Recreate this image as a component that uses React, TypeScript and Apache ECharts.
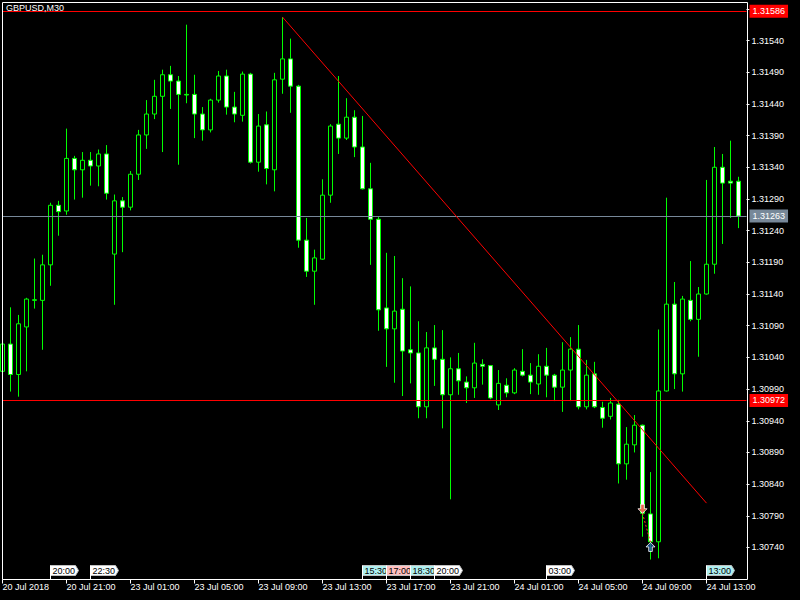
import React, { useEffect, useRef } from 'react';
import * as echarts from 'echarts';

const FONT = '"Liberation Sans", Arial, sans-serif';
const chartTitle = 'GBPUSD,M30';

const xTickLabels = [
  '20 Jul 2018', '20 Jul 21:00', '23 Jul 01:00', '23 Jul 05:00', '23 Jul 09:00', '23 Jul 13:00',
  '23 Jul 17:00', '23 Jul 21:00', '24 Jul 01:00', '24 Jul 05:00', '24 Jul 09:00', '24 Jul 13:00',
];

const yTickValues = [
  1.3074, 1.3079, 1.3084, 1.3089, 1.3094, 1.3099, 1.3104, 1.3109, 1.3114,
  1.3119, 1.3124, 1.3129, 1.3134, 1.3139, 1.3144, 1.3149, 1.3154, 1.3159,
];
const yLabelValues = [
  1.3074, 1.3079, 1.3084, 1.3089, 1.3094, 1.3099, 1.3104, 1.3109, 1.3114,
  1.3119, 1.3124, 1.3129, 1.3134, 1.3139, 1.3144, 1.3149, 1.3154,
];

const opens = [
  1.31018, 1.31061, 1.31013, 1.31088, 1.31130, 1.31130, 1.31186, 1.31280, 1.31271, 1.31354,
  1.31336, 1.31351, 1.31342, 1.31361, 1.31203, 1.31287, 1.31277, 1.31329, 1.31391, 1.31424,
  1.31452, 1.31486, 1.31476, 1.31455, 1.31455, 1.31424, 1.31399, 1.31446, 1.31484, 1.31435,
  1.31422, 1.31487, 1.31348, 1.31407, 1.31336, 1.31479, 1.31511, 1.31468, 1.31225, 1.31176,
  1.31195, 1.31296, 1.31408, 1.31386, 1.31419, 1.31372, 1.31306, 1.31258, 1.31118, 1.31085,
  1.31116, 1.31052, 1.31047, 1.30962, 1.31055, 1.31037, 1.30981, 1.31022, 1.31001, 1.30992,
  1.31029, 1.31027, 1.30965, 1.30996, 1.30984, 1.31018, 1.31012, 1.30998, 1.31026, 1.31012,
  1.30993, 1.31020, 1.31053, 1.30962, 1.31014, 1.30961, 1.30947, 1.30966, 1.30872, 1.30902,
  1.30933, 1.30793, 1.30749, 1.30987, 1.31124, 1.31014, 1.31130, 1.31100, 1.31140, 1.31187,
  1.31340, 1.31318, 1.31318,
];
const closes = [
  1.31061, 1.31013, 1.31093, 1.31132, 1.31131, 1.31186, 1.31280, 1.31270, 1.31354, 1.31336,
  1.31351, 1.31342, 1.31361, 1.31299, 1.31287, 1.31277, 1.31329, 1.31391, 1.31424, 1.31452,
  1.31486, 1.31476, 1.31455, 1.31454, 1.31424, 1.31399, 1.31446, 1.31484, 1.31435, 1.31424,
  1.31487, 1.31348, 1.31405, 1.31338, 1.31478, 1.31511, 1.31468, 1.31225, 1.31176, 1.31197,
  1.31296, 1.31405, 1.31386, 1.31419, 1.31372, 1.31306, 1.31258, 1.31115, 1.31085, 1.31113,
  1.31050, 1.31047, 1.30962, 1.31055, 1.31037, 1.30981, 1.31022, 1.31003, 1.30992, 1.31031,
  1.31026, 1.30976, 1.30999, 1.30984, 1.31020, 1.31012, 1.31001, 1.31026, 1.31012, 1.30993,
  1.31020, 1.31053, 1.30962, 1.31012, 1.30962, 1.30944, 1.30968, 1.30872, 1.30903, 1.30933,
  1.30794, 1.30749, 1.30987, 1.31124, 1.31014, 1.31132, 1.31100, 1.31140, 1.31187, 1.31340,
  1.31315, 1.31315, 1.31263,
];
const lows = [
  1.31008, 1.30986, 1.30978, 1.31018, 1.31117, 1.31052, 1.31153, 1.31232, 1.31265, 1.31289,
  1.31292, 1.31311, 1.31310, 1.31289, 1.31123, 1.31206, 1.31272, 1.31320, 1.31369, 1.31416,
  1.31364, 1.31432, 1.31344, 1.31441, 1.31386, 1.31382, 1.31395, 1.31442, 1.31423, 1.31411,
  1.31412, 1.31346, 1.31333, 1.31313, 1.31302, 1.31456, 1.31426, 1.31213, 1.31167, 1.31123,
  1.31194, 1.31284, 1.31361, 1.31383, 1.31356, 1.31305, 1.31186, 1.31082, 1.31025, 1.31000,
  1.30979, 1.30999, 1.30944, 1.30944, 1.30995, 1.30928, 1.30816, 1.30981, 1.30968, 1.30976,
  1.30997, 1.30974, 1.30957, 1.30977, 1.30982, 1.31010, 1.30982, 1.30981, 1.30977, 1.30971,
  1.30954, 1.30971, 1.30958, 1.30958, 1.30960, 1.30929, 1.30942, 1.30841, 1.30847, 1.30890,
  1.30757, 1.30721, 1.30723, 1.30986, 1.30990, 1.30986, 1.31097, 1.31041, 1.31139, 1.31172,
  1.31219, 1.31260, 1.31244,
];
const highs = [
  1.31071, 1.31119, 1.31107, 1.31134, 1.31196, 1.31202, 1.31284, 1.31287, 1.31401, 1.31358,
  1.31364, 1.31364, 1.31368, 1.31375, 1.31297, 1.31293, 1.31334, 1.31399, 1.31446, 1.31478,
  1.31494, 1.31500, 1.31484, 1.31565, 1.31486, 1.31435, 1.31448, 1.31492, 1.31494, 1.31459,
  1.31491, 1.31489, 1.31424, 1.31428, 1.31489, 1.31577, 1.31543, 1.31470, 1.31260, 1.31210,
  1.31321, 1.31408, 1.31484, 1.31449, 1.31430, 1.31421, 1.31347, 1.31262, 1.31205, 1.31200,
  1.31165, 1.31152, 1.31097, 1.31080, 1.31091, 1.31083, 1.31040, 1.31047, 1.31010, 1.31063,
  1.31037, 1.31028, 1.31020, 1.31007, 1.31023, 1.31053, 1.31031, 1.31045, 1.31055, 1.31014,
  1.31064, 1.31072, 1.31091, 1.31036, 1.31033, 1.30970, 1.30976, 1.30973, 1.30930, 1.30949,
  1.30934, 1.30859, 1.31084, 1.31292, 1.31159, 1.31137, 1.31192, 1.31151, 1.31320, 1.31372,
  1.31361, 1.31382, 1.31325,
];

// price lines
const highLine = 1.31586;
const bidLine = 1.31263;
const levelLine = 1.30972;
// trend line [index, price]
const trendStart = [35, 1.31577];
const trendEnd = [88, 1.30810];
// event time markers on bottom
const eventIndex = [6, 11, 45, 48, 51, 54, 68, 88];
const eventLabels = ['20:00', '22:30', '15:30', '17:00', '18:30', '20:00', '03:00', '13:00'];
const eventColors = ['#ffffff', '#ffffff', '#b0f0f0', '#ffc0c0', '#b0f0f0', '#ffffff', '#ffffff', '#b0f0f0'];
// trades
const sellPoint = [80, 1.30794];
const buyPoint = [81, 1.30748];

const yMin = 1.306895;
const yMax = 1.316;

function buildCategories(n: number): string[] {
  const out: string[] = [];
  let day = 20;
  let h = 17;
  let m = 0;
  const pad = (v: number) => (v < 10 ? '0' + v : '' + v);
  for (let i = 0; i < n; i++) {
    out.push(`${day} Jul ${pad(h)}:${pad(m)}`);
    m += 30;
    if (m === 60) { m = 0; h++; }
    if (h === 24) { h = 0; day = day === 20 ? 23 : day + 1; }
  }
  return out;
}

export default function App() {
  const ref = useRef<HTMLDivElement>(null);
  useEffect(() => {
    if (!ref.current) return;
    const chart = echarts.init(ref.current, null, { renderer: 'svg' });
    const categories = buildCategories(opens.length + 1);
    const lastIdx = categories.length - 1;
    const candleData = opens.map((o, i) => [o, closes[i], lows[i], highs[i]]);
    const priceLabel = (bg: string, v: number) => ({
      show: true,
      position: 'end',
      distance: 3,
      color: '#ffffff',
      backgroundColor: bg,
      padding: [2, 3, 1, 3],
      fontSize: 9,
      fontFamily: FONT,
      lineHeight: 10,
      formatter: v.toFixed(5),
    });
    const hLine = (v: number, color: string) => [
      { coord: [0, v], lineStyle: { color, type: 'solid', width: 1 }, label: priceLabel(color, v) },
      { coord: [lastIdx, v] },
    ];
    const option: any = {
      animation: false,
      backgroundColor: '#000000',
      textStyle: { fontFamily: FONT },
      grid: { left: 2.5, top: 2.5, width: 744, height: 577, containLabel: false, outerBoundsMode: 'none' },
      xAxis: {
        type: 'category',
        data: categories,
        boundaryGap: false,
        axisLine: { show: false },
        axisTick: { show: true, interval: 7, length: 4, lineStyle: { color: '#ffffff', width: 1 } },
        axisLabel: {
          interval: 7,
          color: '#ffffff',
          align: 'left',
          margin: 3,
          fontSize: 9,
          fontFamily: FONT,
          formatter: (_v: string, idx: number) => (idx % 8 === 0 ? xTickLabels[idx / 8] || '' : ''),
        },
        splitLine: { show: false },
      },
      yAxis: {
        type: 'value',
        position: 'right',
        min: yMin,
        max: yMax,
        splitLine: { show: false },
        axisLine: { show: false },
        axisTick: { show: true, length: 3, lineStyle: { color: '#ffffff' }, customValues: yTickValues },
        axisLabel: {
          color: '#ffffff',
          fontSize: 9,
          fontFamily: FONT,
          margin: 5,
          customValues: yLabelValues,
          formatter: (v: number) => v.toFixed(5),
        },
      },
      graphic: [
        {
          type: 'rect',
          z: 100,
          silent: true,
          shape: { x: 2.5, y: 2.5, width: 745, height: 577 },
          style: { fill: 'none', stroke: '#ffffff', lineWidth: 1 },
        },
        {
          type: 'text',
          left: 6,
          top: 3,
          z: 50,
          style: { text: chartTitle, fill: '#ffffff', fontSize: 9, fontFamily: FONT },
        },
      ],
      series: [
        {
          type: 'candlestick',
          data: candleData,
          barWidth: 4,
          z: 3,
          itemStyle: {
            color: '#000000',
            color0: '#ffffff',
            borderColor: '#00ff00',
            borderColor0: '#00ff00',
            borderColorDoji: '#00ff00',
            borderWidth: 1,
          },
          markLine: {
            silent: true,
            symbol: ['none', 'none'],
            animation: false,
            data: [
              hLine(highLine, '#ff0000'),
              hLine(bidLine, '#778899'),
              hLine(levelLine, '#ff0000'),
              [
                { coord: trendStart, lineStyle: { color: '#ff0000', type: 'solid', width: 1 }, label: { show: false } },
                { coord: trendEnd },
              ],
            ],
          },
        },
        {
          type: 'line',
          data: [sellPoint, buyPoint],
          symbol: 'none',
          z: 4,
          lineStyle: { color: '#ff3c1e', width: 1, type: [2, 2] },
        },
        {
          type: 'scatter',
          data: [sellPoint],
          z: 5,
          symbol: 'path://M3,0 L7,0 L7,5 L10,5 L5,10 L0,5 L3,5 Z',
          symbolSize: [9, 9],
          symbolOffset: [0, -4.5],
          itemStyle: { color: '#e8402a', borderColor: '#ffffff', borderWidth: 1 },
        },
        {
          type: 'scatter',
          data: [buyPoint],
          z: 5,
          symbol: 'path://M5,0 L10,5 L7,5 L7,10 L3,10 L3,5 L0,5 Z',
          symbolSize: [9, 9],
          symbolOffset: [0, 4.5],
          itemStyle: { color: '#1e5aa0', borderColor: '#ffffff', borderWidth: 1 },
        },
        {
          type: 'custom',
          z: 6,
          clip: false,
          data: eventIndex.map((idx, n) => [idx, n]),
          renderItem: (_params: any, api: any) => {
            const idx = api.value(0);
            const n = api.value(1);
            const pt = api.coord([idx, yMin]);
            const x = Math.floor(pt[0]) + 0.5;
            const base = pt[1];
            const top = base - 14;
            const bottom = base - 4;
            const mid = (top + bottom) / 2;
            return {
              type: 'group',
              children: [
                {
                  type: 'polygon',
                  shape: { points: [[x, top], [x + 25, top], [x + 28, mid], [x + 25, bottom], [x, bottom]] },
                  style: { fill: eventColors[n], stroke: '#c0c0c0', lineWidth: 1 },
                },
                {
                  type: 'line',
                  shape: { x1: x, y1: top, x2: x, y2: base },
                  style: { stroke: '#ffffff', lineWidth: 1 },
                },
                {
                  type: 'text',
                  x: x + 2,
                  y: mid + 0.5,
                  style: { text: eventLabels[n], fill: '#000000', fontSize: 9, fontFamily: FONT, verticalAlign: 'middle', align: 'left' },
                },
              ],
            };
          },
        },
      ],
    };
    chart.setOption(option);
    return () => chart.dispose();
  }, []);
  return (
    <div
      ref={ref}
      style={{ position: 'fixed', left: 0, top: 0, width: 800, height: 600, background: '#000000' }}
    />
  );
}
